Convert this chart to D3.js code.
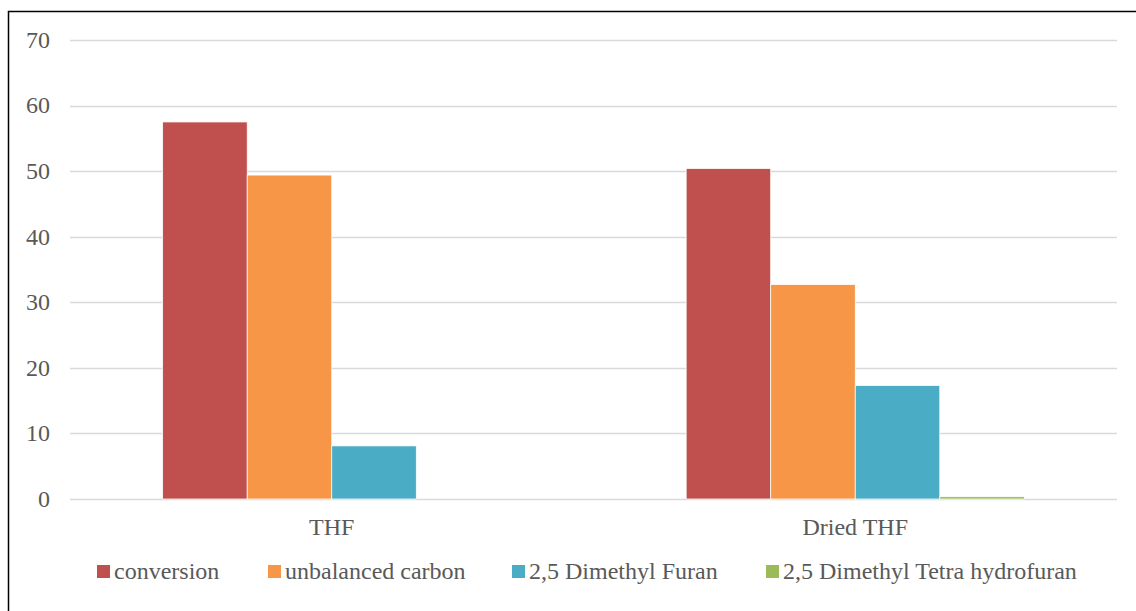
<!DOCTYPE html>
<html>
<head>
<meta charset="utf-8">
<script src="https://cdn.jsdelivr.net/npm/d3@7"></script>
<style>
  html, body { margin: 0; padding: 0; background: #fff; }
  svg { display: block; }
</style>
</head>
<body>
<svg id="chart" width="1136" height="611"></svg>
<script>
// Solvent categories
const categories = ["THF", "Dried THF"];
// Series names and colours
const seriesNames = ["conversion", "unbalanced carbon", "2,5 Dimethyl Furan", "2,5 Dimethyl Tetra hydrofuran"];
const seriesColors = ["#C0504D", "#F79646", "#4BACC6", "#9BBB59"];
// Values per series, one entry per category
const conversion = [57.5, 50.4];
const unbalancedCarbon = [49.4, 32.7];
const dimethylFuran = [8.1, 17.3];
const dimethylTetraHydrofuran = [0, 0.35];
const yTicks = [0, 10, 20, 30, 40, 50, 60, 70];

const seriesValues = [conversion, unbalancedCarbon, dimethylFuran, dimethylTetraHydrofuran];

const FONT = "'Liberation Serif', 'Times New Roman', Times, 'DejaVu Serif', serif";
const TEXT_COLOR = "#595959";
const FONT_SIZE = 24;

const svg = d3.select("#chart");
const W = 1136, H = 611;
const plot = { left: 70, right: 1117, top: 40, bottom: 499 };

// Chart frame
svg.append("rect")
  .attr("x", 8.5).attr("y", 11.5)
  .attr("width", W + 10).attr("height", H + 10)
  .attr("fill", "none").attr("stroke", "#000").attr("stroke-width", 1.5);

const y = d3.scaleLinear().domain([0, 70]).range([plot.bottom, plot.top]);
const x0 = d3.scaleBand().domain(categories)
  .range([plot.left, plot.right])
  .paddingInner(0.354).paddingOuter(0.177);
const x1 = d3.scaleBand().domain(d3.range(seriesNames.length))
  .range([0, x0.bandwidth()]);

// Gridlines
svg.append("g")
  .selectAll("line").data(yTicks).join("line")
  .attr("x1", plot.left).attr("x2", plot.right)
  .attr("y1", d => Math.round(y(d)) + 0.5).attr("y2", d => Math.round(y(d)) + 0.5)
  .attr("stroke", "#d9d9d9").attr("stroke-width", 1.5);

// Y axis tick labels
svg.append("g")
  .selectAll("text").data(yTicks).join("text")
  .attr("x", 50).attr("y", d => y(d))
  .attr("dy", "0.33em")
  .attr("text-anchor", "end")
  .attr("font-family", FONT).attr("font-size", FONT_SIZE).attr("fill", TEXT_COLOR)
  .text(d => d);

// Bars
const groups = svg.append("g").selectAll("g").data(categories).join("g")
  .attr("transform", c => `translate(${x0(c)},0)`);

groups.selectAll("rect")
  .data((c, ci) => seriesValues.map((vals, si) => ({ si, v: vals[ci] })))
  .join("rect")
  .filter(d => d.v > 0)
  .attr("x", d => x1(d.si))
  .attr("width", x1.bandwidth())
  .attr("y", d => y(d.v))
  .attr("height", d => y(0) - y(d.v))
  .attr("fill", d => seriesColors[d.si])
  .attr("stroke", "#fff").attr("stroke-width", 0.75);

// Category labels
svg.append("g")
  .selectAll("text").data(categories).join("text")
  .attr("x", c => x0(c) + x0.bandwidth() / 2)
  .attr("y", 535)
  .attr("text-anchor", "middle")
  .attr("font-family", FONT).attr("font-size", FONT_SIZE).attr("fill", TEXT_COLOR)
  .text(c => c);

// Legend
const legendX = [97, 268, 512, 766];
const legend = svg.append("g").selectAll("g").data(seriesNames).join("g")
  .attr("transform", (d, i) => `translate(${legendX[i]},565)`);
legend.append("rect")
  .attr("width", 13).attr("height", 13)
  .attr("fill", (d, i) => seriesColors[i]);
legend.append("text")
  .attr("x", 17).attr("y", 14)
  .attr("font-family", FONT).attr("font-size", FONT_SIZE).attr("fill", TEXT_COLOR)
  .text(d => d);
</script>
</body>
</html>
